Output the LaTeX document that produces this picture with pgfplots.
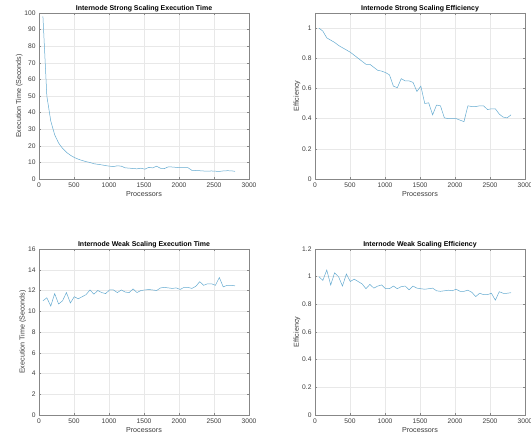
\documentclass[border=0pt]{standalone}
\usepackage{pgfplots}
\pgfplotsset{compat=1.18}
\usepackage{fontspec}
\setmainfont{Liberation Sans}
\definecolor{lineblue}{RGB}{100,170,208}
\definecolor{axgray}{RGB}{135,135,135}
\definecolor{txtgray}{RGB}{60,60,60}
\definecolor{gridgray}{RGB}{232,232,232}
\pgfplotsset{
  mystyle/.style={
    scale only axis, width=210bp, height=166bp,
    xmin=0, xmax=3000, xtick={0,500,...,3000},
    axis line style={axgray, line width=0.5pt},
    tick style={axgray, line width=0.4pt},
    tick align=inside, major tick length=2bp,
    grid=major, major grid style={gridgray, line width=0.4pt},
    tick label style={font=\fontsize{6.7}{7}\selectfont, text=txtgray},
    label style={font=\fontsize{7.2}{8}\selectfont, text=txtgray},
    title style={font=\bfseries\fontsize{7}{8}\selectfont, text=black, yshift=-8bp},
    xlabel={Processors},
    xlabel style={yshift=2.5bp},
    ylabel style={yshift=-5bp},
    /pgf/number format/assume math mode=true,
    /pgf/number format/.cd, 1000 sep={}, 
  },
}
\begin{document}
\begin{tikzpicture}[x=1bp,y=1bp]
\useasboundingbox (0,0) rectangle (531,438);
% Strong scaling execution time
\begin{axis}[mystyle, at={(39bp,259bp)}, anchor=south west,
  ymin=0, ymax=100, ytick={0,10,...,100},
  title={Internode Strong Scaling Execution Time},
  ylabel={Execution Time (Seconds)}]
\addplot[lineblue, line width=0.5pt] coordinates {
(56,98.0)(112,50.0)(168,34.94)(224,26.63)(280,21.66)(336,18.46)(392,16.09)(448,14.33)(504,12.96)(560,11.95)
(616,11.14)(672,10.47)(728,9.92)(784,9.21)(840,8.83)(896,8.51)(952,8.06)(1008,7.72)(1064,7.48)(1120,7.97)
(1176,7.71)(1232,6.70)(1288,6.56)(1344,6.28)(1400,6.13)(1456,6.50)(1512,5.90)(1568,7.00)(1624,6.69)(1680,7.69)
(1736,6.45)(1792,6.31)(1848,7.33)(1904,7.21)(1960,7.00)(2016,6.81)(2072,6.79)(2128,6.79)(2184,5.18)(2240,5.10)
(2296,4.98)(2352,4.81)(2408,4.70)(2464,4.84)(2520,4.68)(2576,4.58)(2632,4.85)(2688,4.98)(2744,4.94)(2800,4.61)
};
\end{axis}
% Strong scaling efficiency
\begin{axis}[mystyle, at={(315bp,259bp)}, anchor=south west,
  ymin=0, ymax=1.1, ytick={0,0.2,...,1},
  title={Internode Strong Scaling Efficiency},
  ylabel={Efficiency}]
\addplot[lineblue, line width=0.5pt] coordinates {
(56,1.000)(112,0.980)(168,0.935)(224,0.920)(280,0.905)(336,0.885)(392,0.870)(448,0.855)(504,0.840)(560,0.820)
(616,0.800)(672,0.780)(728,0.760)(784,0.760)(840,0.740)(896,0.720)(952,0.715)(1008,0.705)(1064,0.690)(1120,0.615)
(1176,0.605)(1232,0.665)(1288,0.650)(1344,0.650)(1400,0.640)(1456,0.580)(1512,0.615)(1568,0.500)(1624,0.505)(1680,0.425)
(1736,0.490)(1792,0.485)(1848,0.405)(1904,0.400)(1960,0.400)(2016,0.400)(2072,0.390)(2128,0.380)(2184,0.485)(2240,0.480)
(2296,0.480)(2352,0.485)(2408,0.485)(2464,0.460)(2520,0.465)(2576,0.465)(2632,0.430)(2688,0.410)(2744,0.405)(2800,0.425)
};
\end{axis}
% Weak scaling execution time
\begin{axis}[mystyle, at={(39bp,23bp)}, anchor=south west,
  ymin=0, ymax=16, ytick={0,2,...,16},
  title={Internode Weak Scaling Execution Time},
  ylabel={Execution Time (Seconds)}]
\addplot[lineblue, line width=0.5pt] coordinates {
(56,11.0)(112,11.3)(168,10.5)(224,11.7)(280,10.7)(336,11.0)(392,11.8)(448,10.8)(504,11.4)(560,11.2)
(616,11.4)(672,11.6)(728,12.05)(784,11.65)(840,12.0)(896,11.8)(952,11.7)(1008,12.05)(1064,12.05)(1120,11.8)
(1176,12.05)(1232,11.85)(1288,11.8)(1344,12.15)(1400,11.8)(1456,12.0)(1512,12.05)(1568,12.1)(1624,12.05)(1680,12.0)
(1736,12.25)(1792,12.3)(1848,12.25)(1904,12.2)(1960,12.25)(2016,12.1)(2072,12.3)(2128,12.3)(2184,12.2)(2240,12.4)
(2296,12.85)(2352,12.5)(2408,12.65)(2464,12.65)(2520,12.5)(2576,13.25)(2632,12.35)(2688,12.5)(2744,12.5)(2800,12.45)
};
\end{axis}
% Weak scaling efficiency
\begin{axis}[mystyle, at={(315bp,23bp)}, anchor=south west,
  ymin=0, ymax=1.2, ytick={0,0.2,...,1.2},
  title={Internode Weak Scaling Efficiency},
  ylabel={Efficiency}]
\addplot[lineblue, line width=0.5pt] coordinates {
(56,1.000)(112,0.973)(168,1.048)(224,0.940)(280,1.028)(336,1.000)(392,0.932)(448,1.019)(504,0.965)(560,0.982)
(616,0.965)(672,0.948)(728,0.913)(784,0.944)(840,0.917)(896,0.932)(952,0.940)(1008,0.913)(1064,0.913)(1120,0.932)
(1176,0.913)(1232,0.928)(1288,0.932)(1344,0.905)(1400,0.932)(1456,0.917)(1512,0.913)(1568,0.909)(1624,0.913)(1680,0.917)
(1736,0.898)(1792,0.894)(1848,0.898)(1904,0.902)(1960,0.898)(2016,0.909)(2072,0.894)(2128,0.894)(2184,0.902)(2240,0.887)
(2296,0.856)(2352,0.880)(2408,0.870)(2464,0.870)(2520,0.880)(2576,0.830)(2632,0.891)(2688,0.880)(2744,0.880)(2800,0.884)
};
\end{axis}
\end{tikzpicture}
\end{document}
